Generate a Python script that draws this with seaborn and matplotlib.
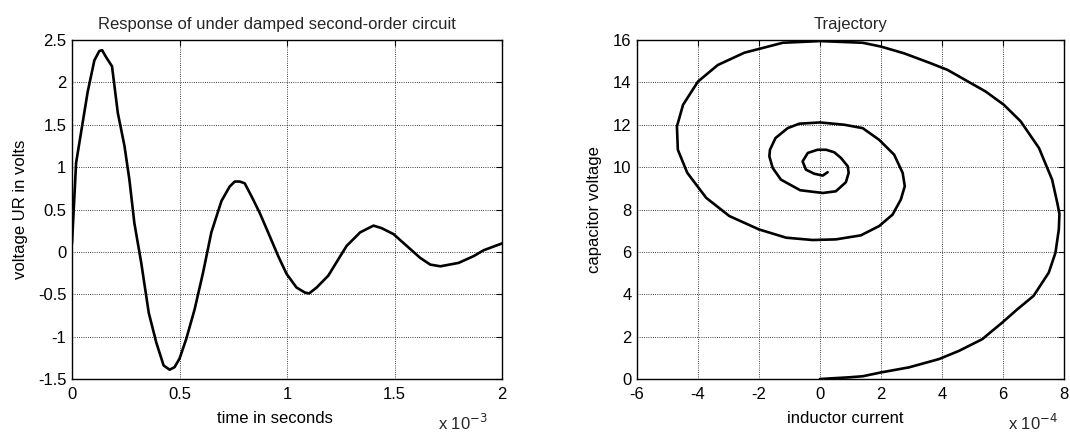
import numpy as np
import pandas as pd
import seaborn as sns
import matplotlib.pyplot as plt
from matplotlib.ticker import FuncFormatter

# ===================== DATA =====================
# step response, time in ms (x 10^-3 s), voltage in V
time_ms = [0.0, 0.019, 0.073, 0.104, 0.127, 0.14, 0.158, 0.186, 0.213, 0.244,
           0.267, 0.29, 0.322, 0.357, 0.392, 0.426, 0.454, 0.477, 0.5, 0.531,
           0.57, 0.609, 0.648, 0.695, 0.733, 0.757, 0.78, 0.803, 0.834, 0.873,
           0.912, 0.959, 0.998, 1.044, 1.083, 1.103, 1.138, 1.192, 1.238, 1.277,
           1.34, 1.402, 1.44, 1.495, 1.557, 1.619, 1.666, 1.713, 1.798, 1.868,
           1.915, 2.0]
voltage_ur = [0.1, 1.05, 1.89, 2.26, 2.37, 2.38, 2.3, 2.19, 1.64, 1.25,
              0.85, 0.34, -0.13, -0.72, -1.07, -1.34, -1.39, -1.36, -1.26, -1.03,
              -0.68, -0.25, 0.23, 0.6, 0.77, 0.83, 0.83, 0.81, 0.66, 0.46,
              0.23, -0.05, -0.26, -0.42, -0.48, -0.49, -0.42, -0.28, -0.09, 0.07,
              0.23, 0.31, 0.28, 0.21, 0.07, -0.07, -0.15, -0.17, -0.13, -0.05,
              0.02, 0.1]

# phase trajectory, inductor current in x 10^-4 A, capacitor voltage in V
current_e4 = [0.0, 0.96, 1.4, 2.0, 2.92, 3.9, 4.56, 5.32, 5.98, 6.47,
              7.0, 7.5, 7.72, 7.83, 7.85, 7.78, 7.61, 7.18, 6.58, 6.03,
              5.43, 4.18, 3.58, 2.76, 2.0, 1.4, 0.0, -1.22, -2.48, -3.35,
              -4.0, -4.49, -4.69, -4.66, -4.35, -3.73, -2.97, -2.0, -1.11, -0.24,
              0.52, 1.34, 1.94, 2.38, 2.65, 2.78, 2.71, 2.43, 1.94, 1.4,
              0.8, 0.0, -0.68, -1.06, -1.46, -1.64, -1.66, -1.55, -1.28, -0.65,
              0.09, 0.52, 0.85, 0.94, 0.91, 0.69, 0.47, 0.2, -0.08, -0.4,
              -0.57, -0.46, -0.19, 0.09, 0.25]
cap_voltage = [0.0, 0.08, 0.13, 0.31, 0.55, 0.94, 1.33, 1.88, 2.67, 3.29,
               3.92, 5.02, 5.96, 7.06, 7.8, 8.31, 9.41, 10.9, 12.16, 12.94,
               13.57, 14.59, 14.93, 15.37, 15.69, 15.87, 15.95, 15.87, 15.4, 14.82,
               14.04, 12.94, 11.92, 10.82, 9.73, 8.55, 7.69, 7.06, 6.67, 6.56,
               6.59, 6.78, 7.22, 7.76, 8.47, 9.1, 9.73, 10.59, 11.29, 11.84,
               12.0, 12.11, 12.05, 11.84, 11.37, 10.82, 10.51, 9.96, 9.41, 8.91,
               8.78, 8.86, 9.29, 9.73, 10.04, 10.43, 10.7, 10.82, 10.82, 10.67,
               10.27, 9.88, 9.69, 9.6, 9.76]

resp_df = pd.DataFrame({"t": np.array(time_ms) * 1e-3, "v": voltage_ur})
traj_df = pd.DataFrame({"i": np.array(current_e4) * 1e-4, "vc": cap_voltage})

# ===================== STYLE =====================
sns.set_style("whitegrid", {
    "grid.color": "black",
    "grid.linestyle": ":",
    "axes.edgecolor": "black",
})
plt.rcParams["font.family"] = ["Liberation Sans", "DejaVu Sans"]
plt.rcParams["font.size"] = 12
plt.rcParams["axes.titlesize"] = 12
plt.rcParams["axes.labelsize"] = 12
plt.rcParams["xtick.labelsize"] = 12
plt.rcParams["ytick.labelsize"] = 12
plt.rcParams["grid.linewidth"] = 0.6

fig = plt.figure(figsize=(10.7, 4.33), dpi=100)
ax1 = fig.add_axes([0.0673, 0.1247, 0.4019, 0.7829])
ax2 = fig.add_axes([0.5953, 0.1247, 0.3991, 0.7829])

# ===================== RESPONSE =====================
sns.lineplot(data=resp_df, x="t", y="v", ax=ax1, color="black",
             linewidth=1.9, sort=False, estimator=None)
ax1.set_xlim(0, 2e-3)
ax1.set_ylim(-1.5, 2.5)
ax1.set_xticks(np.arange(0, 2.01e-3, 0.5e-3))
ax1.set_yticks(np.arange(-1.5, 2.51, 0.5))
ax1.xaxis.set_major_formatter(FuncFormatter(lambda v, _: f"{v * 1e3:g}"))
ax1.yaxis.set_major_formatter(FuncFormatter(lambda v, _: f"{v:g}"))
ax1.set_title("Response of under damped second-order circuit", pad=8, x=0.477)
ax1.set_xlabel("time in seconds")
ax1.set_ylabel("voltage UR in volts")
ax1.xaxis.set_label_coords(0.472, -0.094)
ax1.yaxis.set_label_coords(-0.102, 0.5)
ax1.text(0.967, -0.15, r"x 10$^{-3}$", transform=ax1.transAxes,
         ha="right", va="baseline")

# ===================== TRAJECTORY =====================
sns.lineplot(data=traj_df, x="i", y="vc", ax=ax2, color="black",
             linewidth=1.9, sort=False, estimator=None)
ax2.set_xlim(-6e-4, 8e-4)
ax2.set_ylim(0, 16)
ax2.set_xticks(np.arange(-6e-4, 8.01e-4, 2e-4))
ax2.set_yticks(np.arange(0, 16.1, 2))
ax2.xaxis.set_major_formatter(FuncFormatter(lambda v, _: f"{round(v * 1e4):d}"))
ax2.set_title("Trajectory", pad=8)
ax2.set_xlabel("inductor current")
ax2.set_ylabel("capacitor voltage")
ax2.xaxis.set_label_coords(0.487, -0.094)
ax2.yaxis.set_label_coords(-0.082, 0.5)
ax2.text(0.986, -0.15, r"x 10$^{-4}$", transform=ax2.transAxes,
         ha="right", va="baseline")

for ax in (ax1, ax2):
    ax.tick_params(direction="in", length=4, width=0.8, top=True, right=True,
                   colors="black")
    ax.tick_params(axis="x", pad=6)
    ax.tick_params(axis="y", pad=4)
    for s in ax.spines.values():
        s.set_linewidth(1.0)
        s.set_color("black")
    ax.grid(True, color="black", linestyle=":", linewidth=0.6)
    ax.xaxis.label.set_color("black")
    ax.yaxis.label.set_color("black")

fig.savefig("out.png", dpi=100)
